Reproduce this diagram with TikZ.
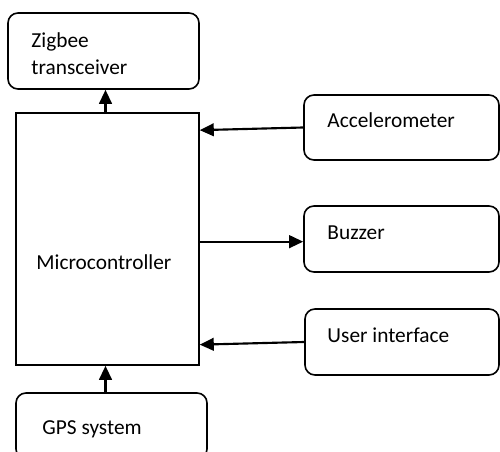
\documentclass[tikz,border=0pt]{standalone}
\usepackage{fontspec}
\setmainfont{Carlito}
\usetikzlibrary{arrows.meta}
\tikzset{
  block/.style 2 args={draw, line width=1.2pt, rounded corners=7.5pt,
    minimum width=#1*0.75pt, minimum height=#2*0.75pt, inner sep=0pt},
  mcu/.style 2 args={draw, line width=1.2pt,
    minimum width=#1*0.75pt, minimum height=#2*0.75pt, inner sep=0pt},
  txt/.style={inner sep=0pt, anchor=base west, font=\fontsize{16pt}{20.25pt}\selectfont},
  link/.style={line width=1.6pt, -{Triangle[length=10.5pt,width=9.5pt]}}
}

\begin{document}
\begin{tikzpicture}[x=0.75pt, y=-0.75pt]
	\useasboundingbox (0,0) rectangle (500,452);
	% blocks
	\node[block={191}{76}] (zigbee) at (103.5,51) {};
	\node[mcu={183}{252}] (micro) at (107.5,239) {};
	\node[block={195}{65}] (accel) at (401.5,127.5) {};
	\node[block={195}{66}] (buzzer) at (401.5,239) {};
	\node[block={194}{66}] (ui) at (402,342) {};
	\node[block={191}{66}] (gps) at (111.5,426) {};
	% texts
	\node[txt] (zigbee-l1) at ([shift={(24,35)}]zigbee.north west) {Zigbee};
	\node[txt] (zigbee-l2) at ([shift={(0,27)}]zigbee-l1.base west) {transceiver};
	\node[txt] (micro-l) at ([shift={(21,157)}]micro.north west) {Microcontroller};
	\node[txt] (accel-l) at ([shift={(24,33)}]accel.north west) {Accelerometer};
	\node[txt] (buzzer-l) at ([shift={(24,34)}]buzzer.north west) {Buzzer};
	\node[txt] (ui-l) at ([shift={(23,34)}]ui.north west) {User interface};
	\node[txt] (gps-l) at ([shift={(27,42)}]gps.north west) {GPS system};
	% arrows
	\draw[link] ([xshift=-1.5pt]micro.north) -- ([xshift=-1.5pt]micro.north |- zigbee.south);
	\draw[link] (accel.west) -- ([yshift=-2pt]accel.west -| micro.east);
	\draw[link] ([yshift=-2pt]micro.east) -- ([yshift=-2pt]buzzer.west);
	\draw[link] (ui.west) -- ([yshift=-2pt]ui.west -| micro.east);
	\draw[link] ([xshift=-1.5pt]gps.north -| micro.south) -- ([xshift=-1.5pt]micro.south);
\end{tikzpicture}
\end{document}
